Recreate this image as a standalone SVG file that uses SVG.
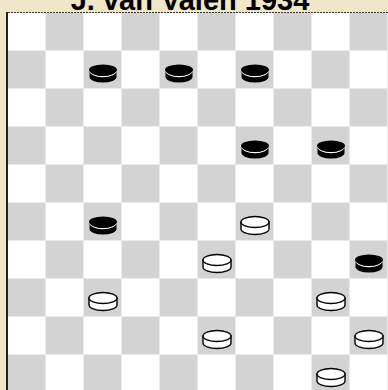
<svg xmlns="http://www.w3.org/2000/svg" xmlns:xlink="http://www.w3.org/1999/xlink" width="388" height="390" viewBox="0 0 388 390">
<style>
.title{font-family:"Liberation Sans",Arial,sans-serif;font-weight:bold;font-size:29px;fill:#000}
.dk{fill:#d3d3d3}
.lt{fill:#ffffff}
</style>
<defs>
<g id="wp">
<path d="M-14,-1 V6 A14,5.5 0 0 0 14,6 V-1 Z" fill="#fff" stroke="#000" stroke-width="1.4"/>
<ellipse cx="0" cy="-1" rx="14" ry="5.5" fill="#fff" stroke="#000" stroke-width="1.4"/>
</g>
<g id="bp">
<path d="M-13.5,-1 V6 A13.5,5.5 0 0 0 13.5,6 V-1 Z" fill="#000"/>
<path d="M-13.5,-1 A13.5,6.6 0 0 0 13.5,-1" fill="none" stroke="#fff" stroke-width="1.2"/>
<ellipse cx="0" cy="-1" rx="14" ry="5.5" fill="#000"/>
</g>
<pattern id="board" x="8" y="13" width="76" height="76" patternUnits="userSpaceOnUse">
<rect width="76" height="76" fill="#ebebeb"/>
<rect x="0" y="0" width="37" height="37" class="lt"/>
<rect x="38" y="0" width="37" height="37" class="dk"/>
<rect x="0" y="38" width="37" height="37" class="dk"/>
<rect x="38" y="38" width="37" height="37" class="lt"/>
</pattern>
</defs>
<rect width="388" height="390" fill="#efe7c7"/>
<text class="title" x="190" y="10" text-anchor="middle">J. van Valen 1934</text>
<g id="board-grid">
<rect x="8" y="13" width="380" height="377" fill="url(#board)"/>
<line x1="7" y1="12" x2="7" y2="390" stroke="#222" stroke-width="2"/>
<line x1="8" y1="12.5" x2="388" y2="12.5" stroke="#333" stroke-width="1" stroke-dasharray="2,1"/>
</g>
<g id="pieces">
<use id="b1" xlink:href="#bp" x="103" y="71"/>
<use id="b2" xlink:href="#bp" x="179" y="71"/>
<use id="b3" xlink:href="#bp" x="255" y="71"/>
<use id="b4" xlink:href="#bp" x="255" y="147"/>
<use id="b5" xlink:href="#bp" x="331" y="147"/>
<use id="b6" xlink:href="#bp" x="103" y="223"/>
<use id="b7" xlink:href="#bp" x="369" y="261"/>
<use id="w1" xlink:href="#wp" x="255" y="223"/>
<use id="w2" xlink:href="#wp" x="217" y="261"/>
<use id="w3" xlink:href="#wp" x="103" y="299"/>
<use id="w4" xlink:href="#wp" x="331" y="299"/>
<use id="w5" xlink:href="#wp" x="217" y="337"/>
<use id="w6" xlink:href="#wp" x="369" y="337"/>
<use id="w7" xlink:href="#wp" x="331" y="375"/>
</g>
</svg>
